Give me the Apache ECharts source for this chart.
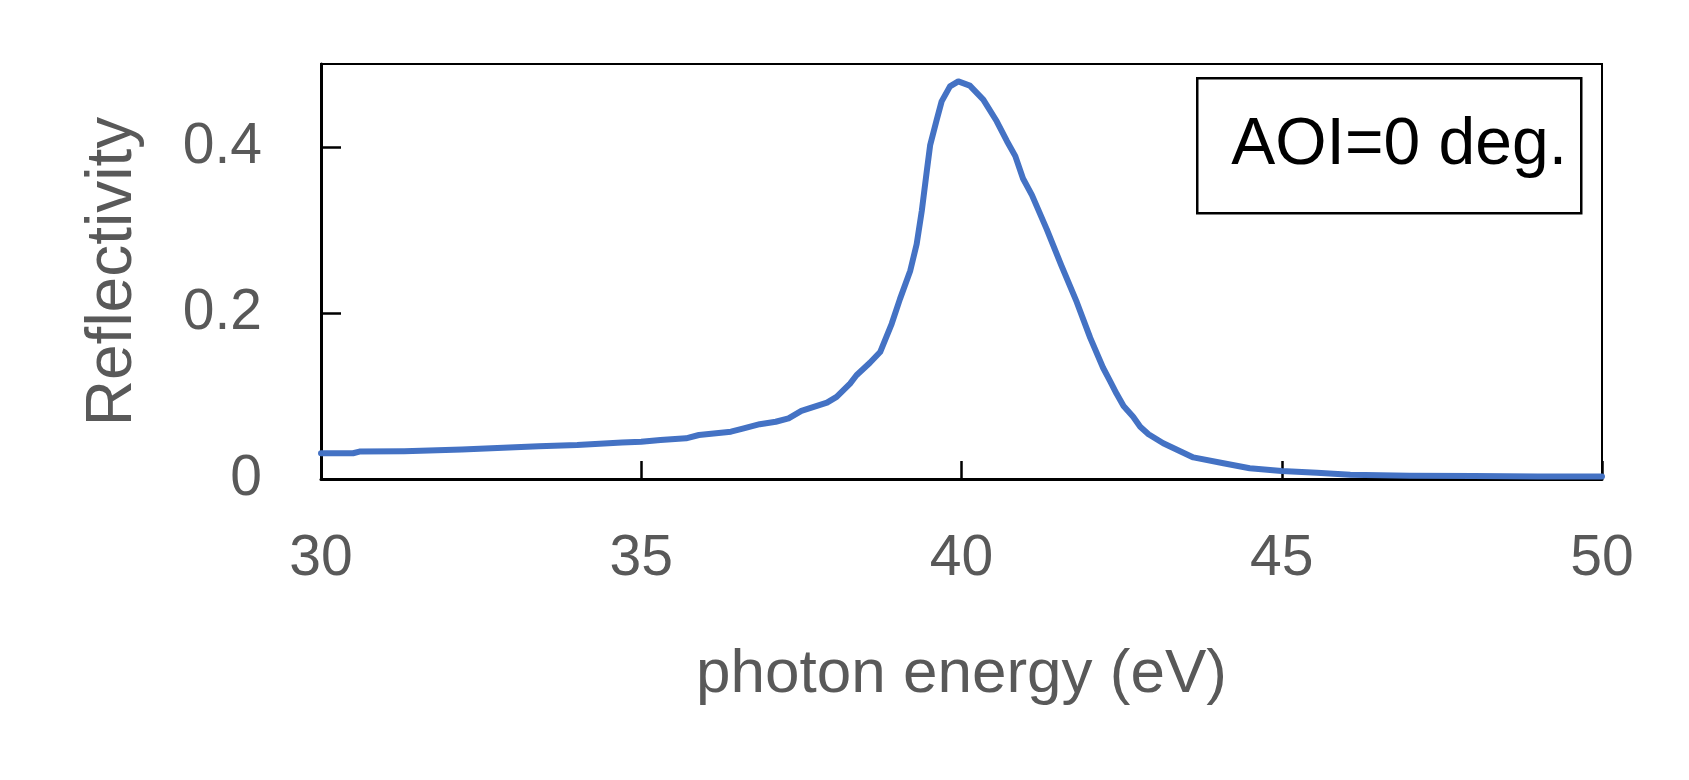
<!DOCTYPE html>
<html>
<head>
<meta charset="utf-8">
<script src="https://cdn.jsdelivr.net/npm/echarts@6/dist/echarts.min.js"></script>
<style>
html,body{margin:0;padding:0;background:#fff;}
#chart{width:1689px;height:780px;}
</style>
</head>
<body>
<div id="chart"></div>
<script>
// photon energy (eV)
var energy = [30.0, 30.5, 30.6, 31.3, 32.2, 33.4, 34.0, 34.7, 35.0, 35.3, 35.7, 35.9, 36.4, 36.6, 36.85, 37.1, 37.3, 37.5, 37.9, 38.05, 38.26, 38.36, 38.57, 38.73, 38.91, 39.04, 39.20, 39.30, 39.38, 39.46, 39.51, 39.61, 39.69, 39.82, 39.95, 40.13, 40.34, 40.55, 40.71, 40.84, 40.96, 41.10, 41.33, 41.56, 41.80, 42.01, 42.21, 42.32, 42.42, 42.53, 42.68, 42.79, 42.92, 43.15, 43.62, 44.09, 44.50, 45.0, 45.55, 46.07, 47.0, 48.0, 49.0, 49.5, 50.0];
// reflectivity
var reflectivity = [0.031, 0.031, 0.033, 0.0335, 0.0355, 0.0395, 0.041, 0.044, 0.045, 0.047, 0.049, 0.053, 0.057, 0.061, 0.066, 0.069, 0.073, 0.082, 0.092, 0.099, 0.115, 0.125, 0.140, 0.153, 0.187, 0.217, 0.251, 0.283, 0.323, 0.372, 0.402, 0.432, 0.455, 0.473, 0.479, 0.474, 0.457, 0.431, 0.407, 0.389, 0.362, 0.342, 0.301, 0.257, 0.213, 0.170, 0.134, 0.118, 0.103, 0.088, 0.075, 0.063, 0.054, 0.043, 0.026, 0.019, 0.013, 0.0096, 0.0076, 0.005, 0.004, 0.0035, 0.003, 0.003, 0.003];
var xTicks = {min: 30, max: 50, interval: 5};
var yTicks = {min: 0, max: 0.5, interval: 0.2};
var seriesName = 'AOI=0 deg.';

var points = energy.map(function (e, i) { return [e, reflectivity[i]]; });

var chart = echarts.init(document.getElementById('chart'));
var labelFont = 'Liberation Sans, Arial, sans-serif';
chart.setOption({
  animation: false,
  backgroundColor: '#fff',
  grid: {left: 321, right: 87, top: 64, bottom: 301, show: true, borderColor: '#000', borderWidth: 2, backgroundColor: 'transparent'},
  xAxis: {
    type: 'value', min: xTicks.min, max: xTicks.max, interval: xTicks.interval,
    name: 'photon energy (eV)', nameLocation: 'middle', nameGap: 165,
    nameTextStyle: {color: '#595959', fontSize: 62, fontFamily: labelFont},
    axisLine: {show: true, onZero: false, lineStyle: {color: '#000', width: 3}},
    axisTick: {show: true, inside: true, length: 18, lineStyle: {color: '#000', width: 2.5}},
    axisLabel: {color: '#595959', fontSize: 57, fontFamily: labelFont, margin: 52},
    splitLine: {show: false}
  },
  yAxis: {
    type: 'value', min: yTicks.min, max: yTicks.max, interval: yTicks.interval,
    name: 'Reflectivity', nameLocation: 'middle', nameGap: 176, nameRotate: 90,
    nameTextStyle: {color: '#595959', fontSize: 64, fontFamily: labelFont},
    axisLine: {show: true, onZero: false, lineStyle: {color: '#000', width: 3}},
    axisTick: {show: true, inside: true, length: 20, lineStyle: {color: '#000', width: 2.5}},
    axisLabel: {color: '#595959', fontSize: 57, fontFamily: labelFont, margin: 59, showMaxLabel: false},
    splitLine: {show: false}
  },
  series: [{
    name: seriesName, type: 'line', data: points, showSymbol: false, symbol: 'none',
    smooth: false,
    lineStyle: {color: '#4472C4', width: 6, join: 'round', cap: 'round'},
    emphasis: {disabled: true}
  }],
  graphic: [{
    type: 'group', left: 1196, top: 77, z: 100,
    children: [
      {type: 'rect', shape: {x: 0, y: 0, width: 384, height: 135}, style: {fill: '#fff', stroke: '#000', lineWidth: 2.5}},
      {type: 'text', x: 34, y: 68, style: {text: seriesName, fill: '#000', font: '66px Liberation Sans, Arial, sans-serif', verticalAlign: 'middle'}}
    ]
  }]
});
</script>
</body>
</html>
